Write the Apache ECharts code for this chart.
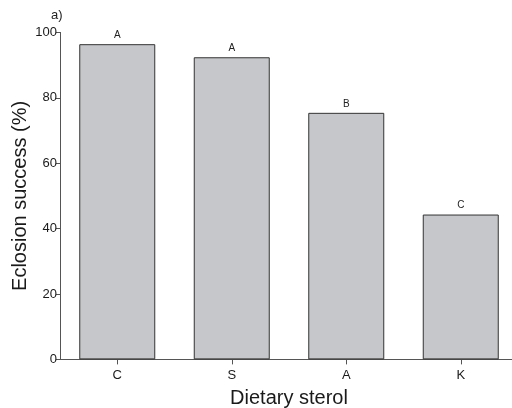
<!DOCTYPE html>
<html>
<head>
<meta charset="utf-8">
<script src="https://cdn.jsdelivr.net/npm/echarts@6/dist/echarts.min.js"></script>
<style>
  html, body { margin: 0; padding: 0; background: #fff; }
  #chart { width: 512px; height: 408px; }
</style>
</head>
<body>
<div id="chart"></div>
<script>
// Dietary sterol treatments and eclosion success
const categories = ['C', 'S', 'A', 'K'];
const eclosionSuccess = [96.4, 92.4, 75.4, 44.3];
const groupLetters = ['A', 'A', 'B', 'C'];
const yTicks = [0, 20, 40, 60, 80, 100];

const chart = echarts.init(document.getElementById('chart'), null, { renderer: 'canvas' });

const fontFamily = 'Liberation Sans, Arial, Helvetica, sans-serif';

chart.setOption({
  animation: false,
  backgroundColor: '#ffffff',
  graphic: [{
    type: 'text',
    left: 51,
    top: 9,
    style: { text: 'a)', font: '13px ' + fontFamily, fill: '#222' }
  }],
  grid: {
    left: 60, top: 32.4, width: 458, height: 327,
    containLabel: false,
    outerBoundsMode: 'none'
  },
  xAxis: {
    type: 'category',
    data: categories,
    name: 'Dietary sterol',
    nameLocation: 'middle',
    nameGap: 29,
    nameMoveOverlap: false,
    nameTextStyle: { fontFamily, fontSize: 20, color: '#1a1a1a' },
    axisLine: { lineStyle: { color: '#555', width: 1 } },
    axisTick: { show: true, alignWithLabel: true, length: 5, lineStyle: { color: '#555' } },
    axisLabel: { fontFamily, fontSize: 13, color: '#1a1a1a', margin: 10 }
  },
  yAxis: {
    type: 'value',
    min: yTicks[0],
    max: yTicks[yTicks.length - 1],
    interval: 20,
    name: 'Eclosion success (%)',
    nameLocation: 'middle',
    nameGap: 30,
    nameMoveOverlap: false,
    nameTextStyle: { fontFamily, fontSize: 20, color: '#1a1a1a' },
    axisLine: { show: true, lineStyle: { color: '#555', width: 1 } },
    axisTick: { show: true, length: 4, lineStyle: { color: '#555' } },
    axisLabel: { fontFamily, fontSize: 13, color: '#1a1a1a', margin: 3 },
    splitLine: { show: false }
  },
  series: [{
    type: 'bar',
    data: eclosionSuccess,
    barWidth: 76,
    itemStyle: { color: '#c6c7ca', borderColor: '#333', borderWidth: 1 },
    label: {
      show: true,
      position: 'top',
      distance: 4,
      formatter: p => groupLetters[p.dataIndex],
      fontFamily,
      fontSize: 10,
      color: '#222'
    }
  }]
});
</script>
</body>
</html>
